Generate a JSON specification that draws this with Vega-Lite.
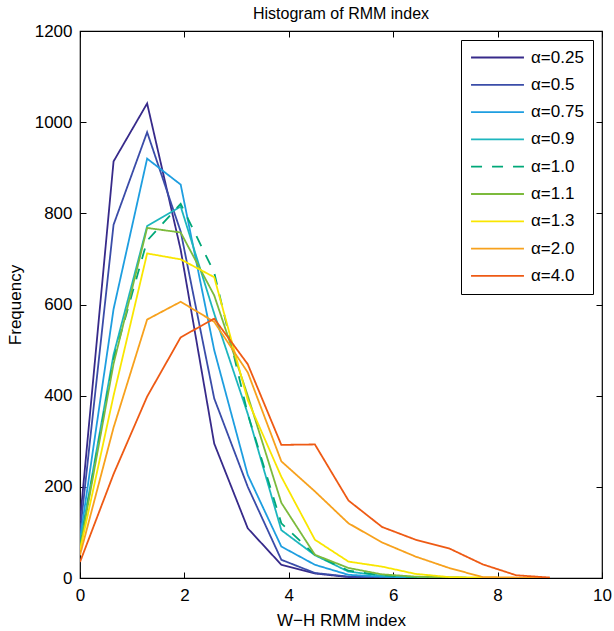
{
  "$schema": "https://vega.github.io/schema/vega-lite/v6.json",
  "width": 522,
  "height": 547,
  "autosize": {"type": "none"},
  "padding": {"left": 80, "top": 31, "right": 12, "bottom": 53},
  "background": "white",
  "config": {
    "font": "Liberation Sans",
    "view": {"stroke": "black", "strokeWidth": 1.2},
    "axis": {"domain": false, "grid": false, "tickColor": "black", "tickSize": -6, "tickWidth": 1, "labelFlush": false, "labelFont": "Liberation Sans", "labelFontSize": 17, "labelColor": "black", "titleFont": "Liberation Sans", "titleFontSize": 17, "titleFontWeight": "normal", "titleColor": "black"}
  },
  "title": {"text": "Histogram of RMM index", "fontSize": 16, "fontWeight": "normal", "font": "Liberation Sans", "color": "black", "offset": 0},
  "data": {"values": [
    {"a":"α=0.25","x":0,"y":125},{"a":"α=0.25","x":0.643,"y":914},{"a":"α=0.25","x":1.286,"y":1041},{"a":"α=0.25","x":1.929,"y":720},{"a":"α=0.25","x":2.571,"y":295},{"a":"α=0.25","x":3.214,"y":109},{"a":"α=0.25","x":3.857,"y":29},{"a":"α=0.25","x":4.5,"y":10},{"a":"α=0.25","x":5.143,"y":2},{"a":"α=0.25","x":5.786,"y":1},{"a":"α=0.25","x":6.429,"y":0},{"a":"α=0.25","x":7.071,"y":0},{"a":"α=0.25","x":7.714,"y":0},{"a":"α=0.25","x":8.357,"y":0},{"a":"α=0.25","x":9,"y":0},
    {"a":"α=0.5","x":0,"y":100},{"a":"α=0.5","x":0.643,"y":775},{"a":"α=0.5","x":1.286,"y":978},{"a":"α=0.5","x":1.929,"y":760},{"a":"α=0.5","x":2.571,"y":394},{"a":"α=0.5","x":3.214,"y":200},{"a":"α=0.5","x":3.857,"y":40},{"a":"α=0.5","x":4.5,"y":11},{"a":"α=0.5","x":5.143,"y":3},{"a":"α=0.5","x":5.786,"y":1},{"a":"α=0.5","x":6.429,"y":0},{"a":"α=0.5","x":7.071,"y":0},{"a":"α=0.5","x":7.714,"y":0},{"a":"α=0.5","x":8.357,"y":0},{"a":"α=0.5","x":9,"y":0},
    {"a":"α=0.75","x":0,"y":85},{"a":"α=0.75","x":0.643,"y":590},{"a":"α=0.75","x":1.286,"y":920},{"a":"α=0.75","x":1.929,"y":863},{"a":"α=0.75","x":2.571,"y":500},{"a":"α=0.75","x":3.214,"y":226},{"a":"α=0.75","x":3.857,"y":69},{"a":"α=0.75","x":4.5,"y":29},{"a":"α=0.75","x":5.143,"y":7},{"a":"α=0.75","x":5.786,"y":3},{"a":"α=0.75","x":6.429,"y":1},{"a":"α=0.75","x":7.071,"y":0},{"a":"α=0.75","x":7.714,"y":0},{"a":"α=0.75","x":8.357,"y":0},{"a":"α=0.75","x":9,"y":0},
    {"a":"α=0.9","x":0,"y":75},{"a":"α=0.9","x":0.643,"y":490},{"a":"α=0.9","x":1.286,"y":772},{"a":"α=0.9","x":1.929,"y":815},{"a":"α=0.9","x":2.571,"y":580},{"a":"α=0.9","x":3.214,"y":360},{"a":"α=0.9","x":3.857,"y":105},{"a":"α=0.9","x":4.5,"y":50},{"a":"α=0.9","x":5.143,"y":14},{"a":"α=0.9","x":5.786,"y":5},{"a":"α=0.9","x":6.429,"y":2},{"a":"α=0.9","x":7.071,"y":1},{"a":"α=0.9","x":7.714,"y":0},{"a":"α=0.9","x":8.357,"y":0},{"a":"α=0.9","x":9,"y":0},
    {"a":"α=1.0","x":0,"y":70},{"a":"α=1.0","x":0.643,"y":480},{"a":"α=1.0","x":1.286,"y":740},{"a":"α=1.0","x":1.929,"y":821},{"a":"α=1.0","x":2.571,"y":670},{"a":"α=1.0","x":3.214,"y":360},{"a":"α=1.0","x":3.857,"y":120},{"a":"α=1.0","x":4.5,"y":51},{"a":"α=1.0","x":5.143,"y":16},{"a":"α=1.0","x":5.786,"y":6},{"a":"α=1.0","x":6.429,"y":2},{"a":"α=1.0","x":7.071,"y":1},{"a":"α=1.0","x":7.714,"y":0},{"a":"α=1.0","x":8.357,"y":0},{"a":"α=1.0","x":9,"y":0},
    {"a":"α=1.1","x":0,"y":65},{"a":"α=1.1","x":0.643,"y":470},{"a":"α=1.1","x":1.286,"y":768},{"a":"α=1.1","x":1.929,"y":758},{"a":"α=1.1","x":2.571,"y":620},{"a":"α=1.1","x":3.214,"y":400},{"a":"α=1.1","x":3.857,"y":165},{"a":"α=1.1","x":4.5,"y":51},{"a":"α=1.1","x":5.143,"y":22},{"a":"α=1.1","x":5.786,"y":8},{"a":"α=1.1","x":6.429,"y":3},{"a":"α=1.1","x":7.071,"y":1},{"a":"α=1.1","x":7.714,"y":0},{"a":"α=1.1","x":8.357,"y":0},{"a":"α=1.1","x":9,"y":0},
    {"a":"α=1.3","x":0,"y":60},{"a":"α=1.3","x":0.643,"y":400},{"a":"α=1.3","x":1.286,"y":712},{"a":"α=1.3","x":1.929,"y":699},{"a":"α=1.3","x":2.571,"y":660},{"a":"α=1.3","x":3.214,"y":390},{"a":"α=1.3","x":3.857,"y":222},{"a":"α=1.3","x":4.5,"y":84},{"a":"α=1.3","x":5.143,"y":36},{"a":"α=1.3","x":5.786,"y":25},{"a":"α=1.3","x":6.429,"y":9},{"a":"α=1.3","x":7.071,"y":2},{"a":"α=1.3","x":7.714,"y":1},{"a":"α=1.3","x":8.357,"y":0},{"a":"α=1.3","x":9,"y":0},
    {"a":"α=2.0","x":0,"y":50},{"a":"α=2.0","x":0.643,"y":330},{"a":"α=2.0","x":1.286,"y":567},{"a":"α=2.0","x":1.929,"y":606},{"a":"α=2.0","x":2.571,"y":562},{"a":"α=2.0","x":3.214,"y":451},{"a":"α=2.0","x":3.857,"y":256},{"a":"α=2.0","x":4.5,"y":190},{"a":"α=2.0","x":5.143,"y":120},{"a":"α=2.0","x":5.786,"y":78},{"a":"α=2.0","x":6.429,"y":47},{"a":"α=2.0","x":7.071,"y":22},{"a":"α=2.0","x":7.714,"y":2},{"a":"α=2.0","x":8.357,"y":1},{"a":"α=2.0","x":9,"y":0},
    {"a":"α=4.0","x":0,"y":35},{"a":"α=4.0","x":0.643,"y":228},{"a":"α=4.0","x":1.286,"y":398},{"a":"α=4.0","x":1.929,"y":528},{"a":"α=4.0","x":2.571,"y":569},{"a":"α=4.0","x":3.214,"y":469},{"a":"α=4.0","x":3.857,"y":292},{"a":"α=4.0","x":4.5,"y":293},{"a":"α=4.0","x":5.143,"y":170},{"a":"α=4.0","x":5.786,"y":112},{"a":"α=4.0","x":6.429,"y":84},{"a":"α=4.0","x":7.071,"y":65},{"a":"α=4.0","x":7.714,"y":30},{"a":"α=4.0","x":8.357,"y":6},{"a":"α=4.0","x":9,"y":1}
  ]},
  "layer": [
    {
      "mark": {"type": "line", "clip": true},
      "encoding": {
        "x": {"field": "x", "type": "quantitative", "scale": {"domain": [0, 10], "nice": false}, "axis": {"values": [0, 2, 4, 6, 8, 10], "title": "W−H RMM index", "labelPadding": 15, "titlePadding": 9}},
        "y": {"field": "y", "type": "quantitative", "scale": {"domain": [0, 1200], "nice": false}, "axis": {"values": [0, 200, 400, 600, 800, 1000, 1200], "format": "d", "title": "Frequency", "labelPadding": 14, "titlePadding": 10}},
        "color": {"field": "a", "type": "nominal", "title": null,
          "scale": {"domain": ["α=0.25","α=0.5","α=0.75","α=0.9","α=1.0","α=1.1","α=1.3","α=2.0","α=4.0"],
                    "range": ["#372a8a","#3a4ca8","#1e9ee0","#1db6be","#00a878","#7cba3c","#f9e600","#f7a11d","#ee5a14"]},
          "legend": {"orient": "top-right", "offset": 9, "symbolType": "stroke", "symbolSize": 2800, "symbolStrokeWidth": 2, "clipHeight": 17, "labelFontSize": 17, "labelFont": "Liberation Sans", "labelColor": "black", "rowPadding": 9.3, "padding": 9, "strokeColor": "black", "fillColor": "white", "labelOffset": 6}},
        "strokeDash": {"field": "a", "type": "nominal", "title": null,
          "scale": {"domain": ["α=0.25","α=0.5","α=0.75","α=0.9","α=1.0","α=1.1","α=1.3","α=2.0","α=4.0"],
                    "range": [[1,0],[1,0],[1,0],[1,0],[11,10],[1,0],[1,0],[1,0],[1,0]]}},
        "strokeWidth": {"field": "a", "type": "nominal", "title": null,
          "scale": {"domain": ["α=0.25","α=0.5","α=0.75","α=0.9","α=1.0","α=1.1","α=1.3","α=2.0","α=4.0"],
                    "range": [1.8,1.8,1.8,1.8,4.5,1.8,1.8,1.8,1.8]}}
      }
    },
    {
      "mark": {"type": "line", "opacity": 0},
      "encoding": {
        "x": {"field": "x", "type": "quantitative", "axis": {"orient": "top", "values": [0, 2, 4, 6, 8, 10], "labels": false, "title": null}},
        "y": {"field": "y", "type": "quantitative", "axis": {"orient": "right", "values": [0, 200, 400, 600, 800, 1000, 1200], "labels": false, "title": null}},
        "detail": {"field": "a"}
      }
    }
  ],
  "resolve": {"axis": {"x": "independent", "y": "independent"}}
}
